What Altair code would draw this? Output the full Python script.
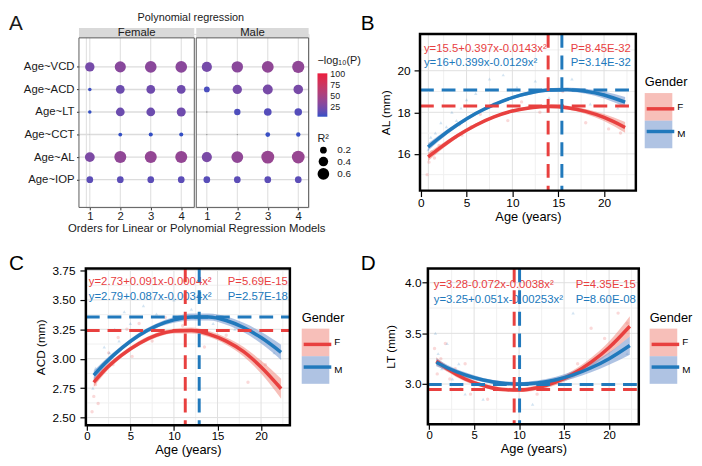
import altair as alt
import pandas as pd

FONT = "Liberation Sans"
RED, BLUE = "#E8403F", "#2179BC"
RED_BAND, BLUE_BAND = "#F08A80", "#6E91CC"
INK = "#1A1A1A"

# ---------------- Panel A data ----------------
models = ["Age~VCD", "Age~ACD", "Age~LT", "Age~CCT", "Age~AL", "Age~IOP"]
genders = ["Female", "Male"]
orders = [1, 2, 3, 4]
# R^2 : Female orders 1-4, then Male orders 1-4
r2_VCD = [0.39, 0.55, 0.60, 0.60, 0.46, 0.58, 0.62, 0.66]
r2_ACD = [0.055, 0.34, 0.34, 0.34, 0.15, 0.39, 0.44, 0.41]
r2_LT = [0.055, 0.34, 0.34, 0.36, 0.008, 0.18, 0.26, 0.25]
r2_CCT = [0.001, 0.065, 0.075, 0.075, 0.008, 0.008, 0.10, 0.085]
r2_AL = [0.43, 0.64, 0.64, 0.64, 0.46, 0.62, 0.74, 0.72]
r2_IOP = [0.20, 0.20, 0.20, 0.20, 0.20, 0.20, 0.20, 0.20]
# -log10(P); None = not significant (grey)
nlp_VCD = [23, 32, 33, 33, 23, 33, 36, 36]
nlp_ACD = [5, 19, 20, 20, 8, 23, 24, 24]
nlp_LT = [3, 19, 19, 20, None, 9, 11, 11]
nlp_CCT = [None, 3, 3, 3, None, None, 4, 4]
nlp_AL = [26, 36, 38, 38, 25, 36, 40, 40]
nlp_IOP = [13, 13, 13, 13, 12, 13, 13, 13]

# ---------------- Panels B-D data ----------------
ages = [0.8, 2, 4, 6, 8, 10, 12, 14, 16, 18, 20, 22.3]

al_fit_F = [15.85, 16.25, 16.87, 17.38, 17.78, 18.06, 18.22, 18.28, 18.22, 18.04, 17.75, 17.27]
al_ci_F = [0.20, 0.15, 0.10, 0.08, 0.07, 0.07, 0.07, 0.08, 0.09, 0.12, 0.17, 0.26]
al_fit_M = [16.33, 16.76, 17.40, 17.94, 18.37, 18.71, 18.94, 19.07, 19.09, 19.01, 18.83, 18.49]
al_ci_M = [0.18, 0.14, 0.10, 0.08, 0.07, 0.07, 0.08, 0.09, 0.10, 0.12, 0.17, 0.25]

acd_fit_F = [2.80, 2.90, 3.03, 3.13, 3.20, 3.235, 3.24, 3.21, 3.15, 3.06, 2.93, 2.745]
acd_ci_F = [0.04, 0.03, 0.02, 0.02, 0.02, 0.02, 0.025, 0.025, 0.03, 0.04, 0.055, 0.085]
acd_fit_M = [2.86, 2.955, 3.09, 3.20, 3.28, 3.33, 3.355, 3.355, 3.325, 3.265, 3.18, 3.055]
acd_ci_M = [0.04, 0.03, 0.02, 0.02, 0.02, 0.025, 0.03, 0.03, 0.035, 0.04, 0.05, 0.065]

lt_fit_F = [3.225, 3.15, 3.05, 2.985, 2.947, 2.94, 2.963, 3.017, 3.10, 3.215, 3.36, 3.57]
lt_ci_F = [0.04, 0.03, 0.025, 0.02, 0.02, 0.02, 0.025, 0.03, 0.035, 0.045, 0.06, 0.10]
lt_fit_M = [3.215, 3.16, 3.09, 3.04, 3.01, 3.00, 3.01, 3.04, 3.09, 3.16, 3.25, 3.38]
lt_ci_M = [0.04, 0.03, 0.025, 0.02, 0.02, 0.02, 0.025, 0.03, 0.035, 0.045, 0.06, 0.09]

al_pts_F_age = [0.7, 0.9, 1.2, 1.5, 2.0, 2.4, 3.0, 3.3, 3.8, 4.2, 4.5, 4.8, 5.5, 6.5, 8.0, 9.5, 11.0, 13.0, 15.5, 18.0, 20.5, 21.8]
al_pts_F_val = [15.0, 15.6, 16.1, 15.8, 16.4, 16.9, 16.6, 17.2, 16.8, 17.4, 16.9, 17.6, 17.3, 17.9, 18.4, 17.6, 18.5, 18.0, 19.0, 17.5, 17.2, 17.0]
al_pts_M_age = [0.8, 1.1, 1.6, 2.2, 2.8, 3.4, 3.9, 4.4, 5.0, 6.0, 7.5, 9.0, 10.5, 12.5, 14.0, 16.5, 18.5, 20.0, 21.5]
al_pts_M_val = [16.2, 16.8, 17.0, 17.5, 17.3, 18.0, 17.6, 18.2, 18.6, 18.9, 19.6, 19.8, 19.2, 19.5, 18.7, 19.6, 18.4, 18.9, 18.2]

acd_pts_F_age = [0.6, 0.8, 1.0, 1.3, 1.8, 2.5, 3.0, 3.6, 4.1, 4.6, 5.2, 6.0, 7.5, 9.0, 11.0, 13.5, 16.0, 18.5, 20.5, 22.0]
acd_pts_F_val = [2.55, 2.68, 2.78, 2.62, 2.90, 3.05, 2.95, 3.18, 3.10, 3.25, 3.02, 3.30, 3.15, 3.35, 3.28, 3.10, 3.20, 2.80, 2.95, 2.78]
acd_pts_M_age = [0.7, 1.0, 1.5, 2.0, 2.6, 3.2, 3.7, 4.3, 5.0, 6.5, 8.0, 10.0, 12.0, 14.5, 17.0, 19.5, 21.5]
acd_pts_M_val = [2.75, 2.92, 2.88, 3.10, 3.05, 3.25, 3.15, 3.40, 3.30, 3.45, 3.38, 3.50, 3.42, 3.30, 3.25, 3.20, 3.05]

lt_pts_F_age = [0.6, 0.9, 1.3, 1.8, 2.3, 2.9, 3.5, 4.0, 4.6, 5.3, 6.5, 8.0, 10.0, 12.0, 14.0, 16.5, 18.0, 19.5, 21.0, 22.0]
lt_pts_F_val = [3.35, 3.10, 3.25, 3.40, 3.05, 3.15, 2.95, 3.20, 2.90, 3.05, 2.85, 2.95, 3.00, 2.90, 3.05, 3.20, 3.55, 3.45, 3.70, 3.60]
lt_pts_M_age = [0.7, 1.0, 1.4, 2.0, 2.6, 3.3, 4.0, 4.8, 6.0, 7.5, 9.5, 11.5, 13.5, 16.0, 18.5, 20.5, 22.0]
lt_pts_M_val = [3.50, 3.30, 3.15, 3.40, 3.05, 3.20, 2.90, 3.00, 2.85, 2.95, 3.05, 2.80, 3.00, 3.70, 3.25, 3.40, 3.30]

# vertex reference lines (F, M)
al_vx = [13.9, 15.4]
al_hy = [18.3, 19.07]
acd_vx = [11.3, 12.9]
acd_hy = [3.24, 3.355]
lt_vx = [9.45, 10.05]
lt_hy = [2.945, 2.995]

al_eq = ["y=15.5+0.397x-0.0143x²", "y=16+0.399x-0.0129x²"]
al_p = ["P=8.45E-32", "P=3.14E-32"]
acd_eq = ["y=2.73+0.091x-0.0004x²", "y=2.79+0.087x-0.0034x²"]
acd_p = ["P=5.69E-15", "P=2.57E-18"]
lt_eq = ["y=3.28-0.072x-0.0038x²", "y=3.25+0.051x-0.00253x²"]
lt_p = ["P=4.35E-15", "P=8.60E-08"]

# axis ticks
age_major = [0, 5, 10, 15, 20]
age_minor = [2.5, 7.5, 12.5, 17.5, 22.5]
al_major = [16, 18, 20]
al_minor = [15, 17, 19, 21]
acd_major = [2.5, 2.75, 3.0, 3.25, 3.5, 3.75]
acd_minor = [2.625, 2.875, 3.125, 3.375, 3.625]
lt_major = [3.0, 3.5, 4.0]
lt_minor = [2.75, 3.25, 3.75]
nlp_legend_ticks = [25, 50, 75, 100]
r2_legend_ticks = [0.2, 0.4, 0.6]

one = pd.DataFrame({"k": [0]})


def txt(text, x, y, size, color=INK, align="center", baseline="middle"):
    return alt.Chart(one).mark_text(text=text, font=FONT, fontSize=size, color=color,
                                    align=align, baseline=baseline).encode(
        x=alt.value(x), y=alt.value(y))


def box(x0, x1, y0, y1, **kw):
    return alt.Chart(one).mark_rect(**kw).encode(
        x=alt.value(x0), x2=alt.value(x1), y=alt.value(y0), y2=alt.value(y1))


# ---------------- Panel A ----------------
rowsA = []
for name, r2s, nlps in [("Age~VCD", r2_VCD, nlp_VCD), ("Age~ACD", r2_ACD, nlp_ACD),
                        ("Age~LT", r2_LT, nlp_LT), ("Age~CCT", r2_CCT, nlp_CCT),
                        ("Age~AL", r2_AL, nlp_AL), ("Age~IOP", r2_IOP, nlp_IOP)]:
    for i in range(8):
        rowsA.append({"model": name, "gender": genders[i // 4], "order": orders[i % 4],
                      "r2": r2s[i], "nlp": nlps[i]})
dfA = pd.DataFrame(rowsA)

WA, HA = 226, 176          # plot cell; panels drawn from x=-7
MALE_SHIFT = 3.84
posA = [o for o in orders] + [o + MALE_SHIFT for o in orders]
xA = alt.Scale(domain=[0.644, 8.18], range=[-7, 226], nice=False, zero=False)
yA = alt.Scale(type="point", domain=models, range=[22, 159.3])
xAaxis = alt.Axis(values=posA,
                  labelExpr=f"format(datum.value < 4.5 ? datum.value : datum.value - {MALE_SHIFT}, '.0f')",
                  title="Orders for Linear or Polynomial Regression Models",
                  titleFontSize=11.5, labelFontSize=11.5, tickSize=2.5, labelPadding=0.5,
                  titlePadding=1, grid=False, domain=False, tickColor="#333333",
                  labelColor=INK, titleColor=INK, titleFontWeight="normal",
                  labelFlush=False, labelOverlap=False, titleX=112, labelFont=FONT, titleFont=FONT)
yAaxis = alt.Axis(title=None, labelFontSize=11.5, tickSize=2.5, labelPadding=2.5, grid=False,
                  domain=False, tickColor="#333333", labelColor=INK, labelFont=FONT, offset=7)
size_scale = alt.Scale(domain=[0, 0.6], range=[0, 139])
sizeA = alt.Size("r2:Q", scale=size_scale,
                 legend=alt.Legend(title="R²", orient="none", legendX=235, legendY=101,
                                   values=r2_legend_ticks, format=".1f", symbolType="circle",
                                   symbolFillColor="black", symbolStrokeColor="black",
                                   symbolStrokeWidth=0, symbolOpacity=1,
                                   labelFontSize=10, titleFontSize=11, titleFontWeight="normal",
                                   rowPadding=1.5, titlePadding=1, labelOffset=8, padding=0,
                                   labelFont=FONT, titleFont=FONT, labelColor=INK, titleColor=INK))
colorA = alt.Color("nlp:Q",
                   scale=alt.Scale(domain=[2.3, 101], range=["#2F4FC6", "#EC1B3D"], interpolate="lab"),
                   legend=alt.Legend(title="−log₁₀(P)", orient="none", legendX=235, legendY=22,
                                     direction="vertical", gradientLength=44, gradientThickness=10,
                                     values=nlp_legend_ticks, labelFontSize=9, titleFontSize=11,
                                     labelBaseline="middle",
                                     titleFontWeight="normal", titlePadding=7, labelOffset=3,
                                     labelOverlap=False, gradientStrokeWidth=0, padding=0,
                                     labelFont=FONT, titleFont=FONT, labelColor=INK, titleColor=INK))
baseA = alt.Chart(dfA).transform_calculate(
    pos=f"datum.order + (datum.gender == 'Male' ? {MALE_SHIFT} : 0)")
XA = alt.X("pos:Q", scale=xA, axis=xAaxis)
YA = alt.Y("model:N", scale=yA, axis=yAaxis, sort=models)
sigA = baseA.transform_filter("datum.nlp != null").mark_circle(opacity=1).encode(
    x=XA, y=YA, size=sizeA, color=colorA)
nsA = baseA.transform_filter("datum.nlp == null").mark_circle(opacity=1, color="#8C8C8C").encode(
    x=XA, y=YA, size=alt.Size("r2:Q", scale=size_scale, legend=None))

gridA_v = alt.Chart(pd.DataFrame({"pos": posA})).mark_rule(color="#DCDCDC", strokeWidth=1).encode(
    x=XA, y=alt.value(4), y2=alt.value(HA))
gridA_hF = alt.Chart(pd.DataFrame({"model": models})).mark_rule(color="#DCDCDC", strokeWidth=1.4).encode(
    y=YA, x=alt.value(-7), x2=alt.value(110))
gridA_hM = alt.Chart(pd.DataFrame({"model": models})).mark_rule(color="#DCDCDC", strokeWidth=1.4).encode(
    y=YA, x=alt.value(112), x2=alt.value(WA))

panelA = alt.layer(
    gridA_v, gridA_hF, gridA_hM,
    box(-7, 110, -6, 4, fill="#D9D9D9"),
    box(112, WA, -6, 4, fill="#D9D9D9"),
    txt("Female", 51.5, -0.5, 11.5),
    txt("Male", 169, -0.5, 11.5),
    txt("Polynomial regression", 106.5, -16, 11),
    txt("A", -78, -21, 21, align="left", baseline="top"),
    sigA, nsA,
    box(-7, 110, 4, HA, fillOpacity=0, stroke="#595959", strokeWidth=1),
    box(112, WA, 4, HA, fillOpacity=0, stroke="#595959", strokeWidth=1),
    box(-78, 292, -21, 213, opacity=0),
).properties(width=WA, height=HA)


# ---------------- Panels B-D ----------------
def growth(p):
    W, H, dx = p["W"], p["H"], p["dx"]
    xs = alt.Scale(domain=p["xdom"], range=[dx, W], nice=False, zero=False)
    ys = alt.Scale(domain=p["ydom"], nice=False, zero=False)
    xaxis = alt.Axis(values=age_major, format="d", grid=False, domain=False,
                     tickSize=p["xtick"], tickWidth=1.2, tickColor="black",
                     labelPadding=p["xlabpad"], labelFontSize=p["xlabsize"], labelColor="black",
                     labelFlush=False, labelOverlap=False,
                     title="Age (years)", titleFontSize=13, titleFontWeight="normal",
                     titleColor="black", titlePadding=p["xtitlepad"], titleX=(dx + W) / 2,
                     labelFont=FONT, titleFont=FONT)
    yaxis = alt.Axis(values=p["ymaj"], format=p["yfmt"], grid=False, domain=False,
                     tickSize=6, tickWidth=1.2, tickColor="black", offset=-dx,
                     labelPadding=p["ylabpad"], labelFontSize=12, labelColor="black",
                     labelFlush=False, labelOverlap=False,
                     title=p["ytitle"], titleFontSize=12, titleFontWeight="normal",
                     titleColor="black", titlePadding=p["ytitlepad"], labelFont=FONT, titleFont=FONT)

    def X(f):
        return alt.X(f, type="quantitative", scale=xs, axis=xaxis)

    def Y(f):
        return alt.Y(f, type="quantitative", scale=ys, axis=yaxis)

    n = len(ages)
    dfc = pd.DataFrame({"age": ages + ages, "fit": p["fitF"] + p["fitM"],
                        "ci": p["ciF"] + p["ciM"], "gender": ["F"] * n + ["M"] * n})
    dfc["lo"] = dfc["fit"] - dfc["ci"]
    dfc["hi"] = dfc["fit"] + dfc["ci"]
    dfF = pd.DataFrame({"age": p["ptsF"][0], "val": p["ptsF"][1]})
    dfM = pd.DataFrame({"age": p["ptsM"][0], "val": p["ptsM"][1]})
    dfr = pd.DataFrame({"gender": ["F", "M"], "vx": p["vx"], "hy": p["hy"]})

    def vgrid(vals, color):
        return alt.Chart(pd.DataFrame({"v": vals})).mark_rule(color=color, strokeWidth=1).encode(
            x=X("v"), y=alt.value(0), y2=alt.value(H))

    def hgrid(vals, color):
        return alt.Chart(pd.DataFrame({"v": vals})).mark_rule(color=color, strokeWidth=1).encode(
            y=Y("v"), x=alt.value(dx), x2=alt.value(W))

    lx, ly = p["legend"]
    common_leg = dict(orient="none", legendX=lx, legendY=ly, symbolSize=784,
                      titleFontSize=13, titleFontWeight="normal", labelFontSize=10,
                      titlePadding=4, rowPadding=0, labelOffset=5, padding=0,
                      labelFont=FONT, titleFont=FONT, labelColor="black", titleColor="black")
    fill_leg = alt.Legend(title="Gender", symbolType="square", symbolStrokeWidth=0,
                          symbolOpacity=0.55, **common_leg)
    stroke_leg = alt.Legend(title=" ", labelExpr="' '", symbolType="stroke",
                            symbolStrokeWidth=3.5, titleOpacity=0, labelOpacity=0, zindex=1,
                            **common_leg)
    rule_color = alt.Color("gender:N", scale=alt.Scale(domain=["F", "M"], range=[RED, BLUE]),
                           legend=None)

    ptsF = alt.Chart(dfF).mark_point(filled=True, shape="circle", size=12, opacity=0.2,
                                     color=RED).encode(x=X("age"), y=Y("val"))
    ptsM = alt.Chart(dfM).mark_point(filled=True, shape="triangle-up", size=12, opacity=0.2,
                                     color=BLUE).encode(x=X("age"), y=Y("val"))
    band = alt.Chart(dfc).mark_area(opacity=0.55, interpolate="monotone").encode(
        x=X("age"), y=Y("lo"), y2=alt.Y2("hi"),
        fill=alt.Fill("gender:N", scale=alt.Scale(domain=["F", "M"], range=[RED_BAND, BLUE_BAND]),
                      legend=fill_leg))
    line = alt.Chart(dfc).mark_line(strokeWidth=3.5, interpolate="monotone").encode(
        x=X("age"), y=Y("fit"),
        stroke=alt.Stroke("gender:N", scale=alt.Scale(range=[RED, BLUE]), legend=stroke_leg))
    vrule = alt.Chart(dfr).mark_rule(strokeWidth=3, strokeDash=[14, 8]).encode(
        x=X("vx"), y=alt.value(0), y2=alt.value(H), color=rule_color)
    hrule = alt.Chart(dfr).mark_rule(strokeWidth=3, strokeDash=[14, 8]).encode(
        y=Y("hy"), x=alt.value(dx), x2=alt.value(W), color=rule_color)
    (yF, yM), ex, px = p["eq_y"], p["eq_x"], p["p_x"]
    bx0, bx1, by0, by1 = p["bounds"]
    lxl, lyl = p["letter_xy"]
    return alt.layer(
        vgrid(age_minor, "#F0F0F0"), hgrid(p["ymin"], "#F0F0F0"),
        vgrid(age_major, "#E0E0E0"), hgrid(p["ymaj"], "#E0E0E0"),
        ptsF, ptsM, band, line,
        txt(p["eq"][0], ex, yF, 11.5, RED, align="left"),
        txt(p["eq"][1], ex, yM, 11.5, BLUE, align="left"),
        txt(p["pv"][0], px, yF, 11.5, RED, align="right"),
        txt(p["pv"][1], px, yM, 11.5, BLUE, align="right"),
        hrule, vrule,
        box(dx, W, 0, H, fillOpacity=0, stroke="black", strokeWidth=2.5),
        txt(p["letter"], lxl, lyl, 21, "black", align="left", baseline="top"),
        box(bx0, bx1, by0, by1, opacity=0),
    ).properties(width=W, height=H)


panelB = growth(dict(letter="B", W=211, H=159, dx=-8, xdom=[-0.08, 23.47], ydom=[14.23, 21.77],
                     ymaj=al_major, ymin=al_minor, yfmt="d",
                     ytitle="AL (mm)", ylabpad=4, ytitlepad=5,
                     xtick=6, xlabpad=1, xlabsize=12, xtitlepad=2,
                     fitF=al_fit_F, ciF=al_ci_F, fitM=al_fit_M, ciM=al_ci_M,
                     ptsF=(al_pts_F_age, al_pts_F_val), ptsM=(al_pts_M_age, al_pts_M_val),
                     vx=al_vx, hy=al_hy, eq=al_eq, pv=al_p, eq_y=(15, 30), eq_x=-4, p_x=206,
                     legend=(220, 43), letter_xy=(-68, -21), bounds=(-68, 261, -21, 213)))

panelC = growth(dict(letter="C", W=207, H=159, dx=0, xdom=[-0.11, 23.31], ydom=[2.435, 3.767],
                     ymaj=acd_major, ymin=acd_minor, yfmt=".2f",
                     ytitle="ACD (mm)", ylabpad=5, ytitlepad=5,
                     xtick=5, xlabpad=0, xlabsize=11.5, xtitlepad=2.5,
                     fitF=acd_fit_F, ciF=acd_ci_F, fitM=acd_fit_M, ciM=acd_ci_M,
                     ptsF=(acd_pts_F_age, acd_pts_F_val), ptsM=(acd_pts_M_age, acd_pts_M_val),
                     vx=acd_vx, hy=acd_hy, eq=acd_eq, pv=acd_p, eq_y=(14, 29), eq_x=3, p_x=205,
                     legend=(219, 44), letter_xy=(-78, -15), bounds=(-78, 292, -15, 188)))

panelD = growth(dict(letter="D", W=214, H=158, dx=0, xdom=[-0.14, 23.3], ydom=[2.603, 4.14],
                     ymaj=lt_major, ymin=lt_minor, yfmt=".1f",
                     ytitle="LT (mm)", ylabpad=1, ytitlepad=7,
                     xtick=5, xlabpad=0, xlabsize=11.5, xtitlepad=2.5,
                     fitF=lt_fit_F, ciF=lt_ci_F, fitM=lt_fit_M, ciM=lt_ci_M,
                     ptsF=(lt_pts_F_age, lt_pts_F_val), ptsM=(lt_pts_M_age, lt_pts_M_val),
                     vx=lt_vx, hy=lt_hy, eq=lt_eq, pv=lt_p, eq_y=(17, 32), eq_x=6, p_x=211,
                     legend=(225, 44), letter_xy=(-68, -15), bounds=(-68, 261, -15, 188)))

chart = alt.concat(
    panelA, panelB, panelC, panelD, columns=2,
    spacing={"row": 8, "column": -15}, align="each", bounds="full", padding=0,
).resolve_scale(
    x="independent", y="independent", color="independent", fill="independent",
    stroke="independent", size="independent",
).resolve_legend(
    color="independent", fill="independent", stroke="independent", size="independent",
).configure_view(stroke=None).configure(font=FONT)

chart.save("out.html", embed_options={"renderer": "svg", "actions": False})
